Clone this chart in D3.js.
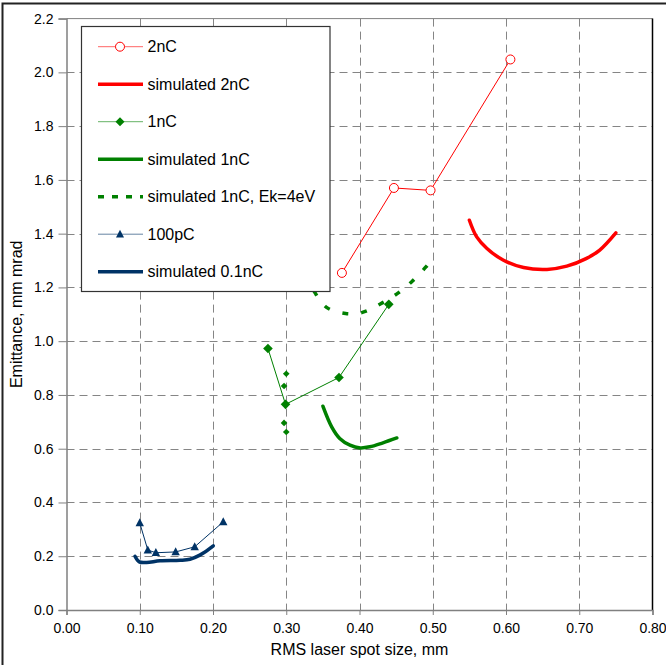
<!DOCTYPE html>
<html>
<head>
<meta charset="utf-8">
<script src="https://cdn.jsdelivr.net/npm/d3@7"></script>
<style>
  html, body { margin: 0; padding: 0; background: #fff; }
  svg { display: block; font-family: "Liberation Sans", Arial, sans-serif; }
</style>
</head>
<body>
<script>
// measured points, [spot size mm, emittance mm mrad]
const meas2nC = [[0.376, 1.254], [0.447, 1.570], [0.497, 1.561], [0.606, 2.048]];
const sim2nC = [[0.550, 1.450], [0.560, 1.388], [0.574, 1.345], [0.596, 1.302], [0.624, 1.274],
  [0.656, 1.267], [0.683, 1.279], [0.710, 1.308], [0.728, 1.339], [0.750, 1.403]];
const meas1nC = [[0.275, 0.973], [0.299, 0.765], [0.372, 0.865], [0.440, 1.137]];
const extra1nC = [[0.300, 0.879], [0.297, 0.833], [0.297, 0.696], [0.300, 0.662]];
const sim1nC = [[0.350, 0.758], [0.362, 0.681], [0.373, 0.638], [0.387, 0.613], [0.401, 0.603],
  [0.414, 0.607], [0.432, 0.622], [0.451, 0.640]];
const sim1nC4eV = [[0.325, 1.25], [0.337, 1.19], [0.355, 1.126], [0.381, 1.103], [0.404, 1.107],
  [0.429, 1.139], [0.452, 1.178], [0.472, 1.223], [0.491, 1.277], [0.496, 1.294]];
const meas100pC = [[0.100, 0.324], [0.111, 0.223], [0.122, 0.213], [0.149, 0.216], [0.175, 0.235], [0.214, 0.328]];
const sim01nC = [[0.0935, 0.200], [0.0994, 0.179], [0.1095, 0.177], [0.1276, 0.183], [0.155, 0.185],
  [0.1686, 0.189], [0.182, 0.204], [0.2004, 0.2385]];

const xTicks = [0, 0.1, 0.2, 0.3, 0.4, 0.5, 0.6, 0.7, 0.8];
const yTicks = [0, 0.2, 0.4, 0.6, 0.8, 1.0, 1.2, 1.4, 1.6, 1.8, 2.0, 2.2];

const red = '#ff0000', green = '#008000', navy = '#003366';

const width = 666, height = 665;
const x = d3.scaleLinear().domain([0, 0.8]).range([66.5, 652.5]);
const y = d3.scaleLinear().domain([0, 2.2]).range([610, 18.6]);

const svg = d3.select('body').append('svg')
  .attr('width', width)
  .attr('height', height);

svg.append('rect')
  .attr('width', width).attr('height', height)
  .attr('fill', '#fff');

// outer chart frame (only left/top inside the picture)
svg.append('rect')
  .attr('x', 2.5).attr('y', 3.5)
  .attr('width', 720).attr('height', 720)
  .attr('fill', 'none')
  .attr('stroke', '#222')
  .attr('stroke-width', 2);

// grid
svg.append('g')
  .selectAll('line')
  .data(xTicks.slice(1, -1))
  .join('line')
  .attr('x1', d => Math.round(x(d)) + 0.5).attr('x2', d => Math.round(x(d)) + 0.5)
  .attr('y1', y(2.2)).attr('y2', y(0))
  .attr('stroke', '#858585')
  .attr('stroke-dasharray', '8,5');

svg.append('g')
  .selectAll('line')
  .data(yTicks.slice(1, -1))
  .join('line')
  .attr('x1', x(0)).attr('x2', x(0.8))
  .attr('y1', d => Math.round(y(d)) + 0.5).attr('y2', d => Math.round(y(d)) + 0.5)
  .attr('stroke', '#858585')
  .attr('stroke-dasharray', '8,5');

// plot border: top gray, right black
svg.append('line')
  .attr('x1', x(0)).attr('x2', x(0.8))
  .attr('y1', y(2.2)).attr('y2', y(2.2))
  .attr('stroke', '#808080');
svg.append('line')
  .attr('x1', x(0.8)).attr('x2', x(0.8))
  .attr('y1', y(2.2)).attr('y2', y(0))
  .attr('stroke', '#000')
  .attr('stroke-width', 1.5);

// axes
const xAxis = d3.axisBottom(x).tickValues(xTicks).tickFormat(d3.format('.2f')).tickSize(5).tickPadding(8);
const yAxis = d3.axisLeft(y).tickValues(yTicks).tickFormat(d3.format('.1f')).tickSize(8).tickPadding(5);

const gx = svg.append('g')
  .attr('transform', `translate(0,${y(0)})`)
  .call(xAxis);
const gy = svg.append('g')
  .attr('transform', `translate(${x(0)},0)`)
  .call(yAxis);

[gx, gy].forEach(g => {
  g.select('.domain').attr('stroke', '#808080').attr('stroke-width', 1.5);
  g.selectAll('.tick line').attr('stroke', '#808080');
  g.selectAll('.tick text')
    .attr('fill', '#000')
    .style('font-size', '14px')
    .style('font-family', '"Liberation Sans", Arial, sans-serif');
});

svg.append('text')
  .attr('x', (x(0) + x(0.8)) / 2)
  .attr('y', 655)
  .attr('text-anchor', 'middle')
  .style('font-size', '16px')
  .text('RMS laser spot size, mm');

svg.append('text')
  .attr('transform', `translate(22,${(y(0) + y(2.2)) / 2}) rotate(-90)`)
  .attr('text-anchor', 'middle')
  .style('font-size', '16px')
  .text('Emittance, mm mrad');

// series
const line = d3.line().x(d => x(d[0])).y(d => y(d[1]));
const smooth = d3.line().x(d => x(d[0])).y(d => y(d[1])).curve(d3.curveCatmullRom);

const plot = svg.append('g');

plot.append('path').datum(sim2nC).attr('d', smooth)
  .attr('fill', 'none').attr('stroke', red).attr('stroke-width', 3.5).attr('stroke-linecap', 'round');
plot.append('path').datum(sim1nC).attr('d', smooth)
  .attr('fill', 'none').attr('stroke', green).attr('stroke-width', 3.5).attr('stroke-linecap', 'round');
plot.append('path').datum(sim1nC4eV).attr('d', smooth)
  .attr('fill', 'none').attr('stroke', green).attr('stroke-width', 3.5)
  .attr('stroke-dasharray', '6,13');
plot.append('path').datum(sim01nC).attr('d', smooth)
  .attr('fill', 'none').attr('stroke', navy).attr('stroke-width', 3.5).attr('stroke-linecap', 'round');

plot.append('path').datum(meas2nC).attr('d', line)
  .attr('fill', 'none').attr('stroke', red).attr('stroke-width', 1);
plot.append('path').datum(meas1nC).attr('d', line)
  .attr('fill', 'none').attr('stroke', green).attr('stroke-width', 1);
plot.append('path').datum(meas100pC).attr('d', line)
  .attr('fill', 'none').attr('stroke', navy).attr('stroke-width', 1);

const diamond = r => `M0,${-r}L${r},0L0,${r}L${-r},0Z`;
const triangle = r => `M0,${-r * 1.1}L${r},${r * 0.8}L${-r},${r * 0.8}Z`;

plot.append('g').selectAll('circle').data(meas2nC).join('circle')
  .attr('cx', d => x(d[0])).attr('cy', d => y(d[1])).attr('r', 4.5)
  .attr('fill', '#fff').attr('stroke', red).attr('stroke-width', 1);
plot.append('g').selectAll('path').data(meas1nC).join('path')
  .attr('transform', d => `translate(${x(d[0])},${y(d[1])})`)
  .attr('d', diamond(4.8)).attr('fill', green);
plot.append('g').selectAll('path').data(extra1nC).join('path')
  .attr('transform', d => `translate(${x(d[0])},${y(d[1])})`)
  .attr('d', diamond(3.3)).attr('fill', green);
plot.append('g').selectAll('path').data(meas100pC).join('path')
  .attr('transform', d => `translate(${x(d[0])},${y(d[1])})`)
  .attr('d', triangle(4.2)).attr('fill', navy);

// legend
const legendItems = [
  { label: '2nC', color: red, width: 1, marker: 'circle' },
  { label: 'simulated 2nC', color: red, width: 3.5 },
  { label: '1nC', color: green, width: 1, marker: 'diamond' },
  { label: 'simulated 1nC', color: green, width: 3.5 },
  { label: 'simulated 1nC, Ek=4eV', color: green, width: 3.5, dash: '6,8' },
  { label: '100pC', color: navy, width: 1, marker: 'triangle' },
  { label: 'simulated 0.1nC', color: navy, width: 3.5 }
];

const legend = svg.append('g');
legend.append('rect')
  .attr('x', 81.5).attr('y', 26.5)
  .attr('width', 248.5).attr('height', 265)
  .attr('fill', '#fff')
  .attr('stroke', '#333')
  .attr('stroke-width', 1.2);

const li = legend.selectAll('g.item').data(legendItems).join('g')
  .attr('class', 'item')
  .attr('transform', (d, i) => `translate(0,${46.7 + i * 37.5})`);

li.append('line')
  .attr('x1', 98).attr('x2', 143)
  .attr('stroke', d => d.color)
  .attr('stroke-width', d => d.width)
  .attr('stroke-dasharray', d => d.dash || null)
  .attr('opacity', d => d.width === 1 ? 0.6 : 1);

li.filter(d => d.marker === 'circle').append('circle')
  .attr('cx', 120).attr('r', 4.5)
  .attr('fill', '#fff').attr('stroke', red);
li.filter(d => d.marker === 'diamond').append('path')
  .attr('transform', 'translate(120,0)').attr('d', diamond(4.5)).attr('fill', green);
li.filter(d => d.marker === 'triangle').append('path')
  .attr('transform', 'translate(120,0)').attr('d', triangle(4)).attr('fill', navy);

li.append('text')
  .attr('x', 147.5)
  .attr('dy', '0.36em')
  .style('font-size', '16px')
  .text(d => d.label);
</script>
</body>
</html>
